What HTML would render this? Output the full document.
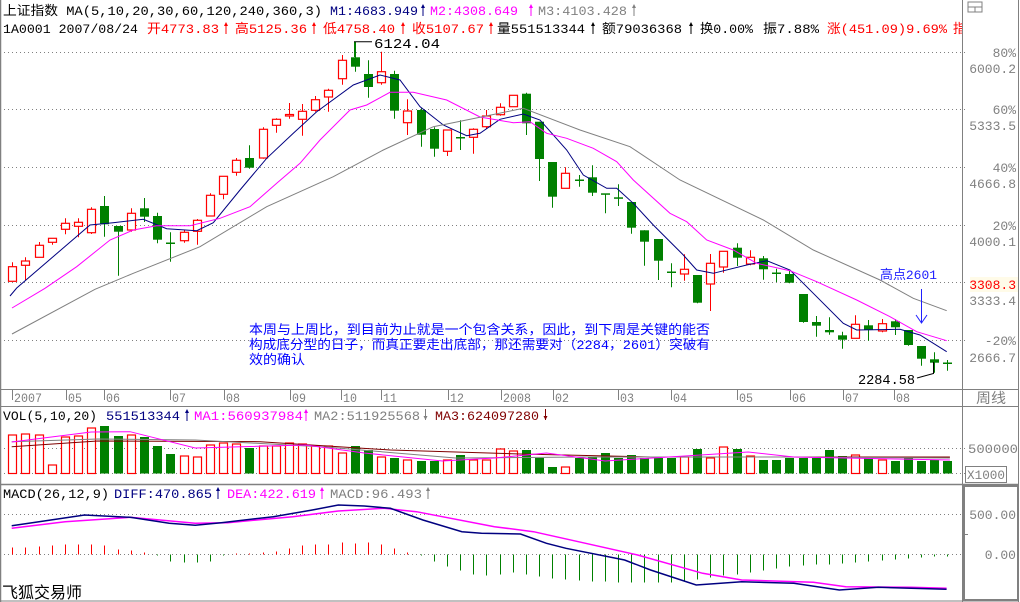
<!DOCTYPE html>
<html><head><meta charset="utf-8"><style>
html,body{margin:0;padding:0;background:#fff;}
svg{display:block;font-family:"Liberation Mono","WenQuanYi Zen Hei","Noto Sans CJK SC",monospace;}
</style></head><body>
<svg id="s" width="1020" height="602" viewBox="0 0 1020 602" xmlns="http://www.w3.org/2000/svg">
<rect width="1020" height="602" fill="#fff"/>
<g id="g"></g>
</svg>
<script>
const g=document.getElementById('g');let h='';
const R='#ff0000',G='#008000',N='#000080',M='#ff00ff',GR='#808080',DR='#800000';
function T(x,y,t,c,w,fs,anchor){h+=`<text x="${x}" y="${y}" fill="${c}" font-size="${fs||13}"${w?` textLength="${w}" lengthAdjust="spacingAndGlyphs"`:''}${anchor?` text-anchor="${anchor}"`:''}>${t}</text>`;}
function L(x1,y1,x2,y2,c,dash,sw){h+=`<line x1="${x1}" y1="${y1}" x2="${x2}" y2="${y2}" stroke="${c}" stroke-width="${sw||1}"${dash?' stroke-dasharray="1 3"':''}/>`;}
function P(pts,c,sw){h+=`<polyline points="${pts.map(p=>p.join(',')).join(' ')}" fill="none" stroke="${c}" stroke-width="${sw||1}"/>`;}
function ARW(x,y,c){L(x,y-10,x,y+1,c);h+=`<polygon points="${x-2},${y-7} ${x},${y-11} ${x+2},${y-7}" fill="${c}"/>`;}
function ARD(x,y,c){L(x,y-11,x,y,c);h+=`<polygon points="${x-2},${y-4} ${x},${y} ${x+2},${y-4}" fill="${c}"/>`;}
L(0.5,0,0.5,602,GR,0,1.5);
L(962.5,0,962.5,602,GR);L(1018.5,0,1018.5,602,GR);
L(0,389.5,1019,389.5,GR);L(0,406.5,1019,406.5,GR);L(0,484.5,1019,484.5,GR,0,1.5);L(0,601,1019,601,GR);
h+=`<rect x="964" y="486" width="54" height="114" fill="none" stroke="${GR}" stroke-width="2"/>`;
h+=`<rect x="968" y="2" width="14" height="10" fill="none" stroke="${GR}"/>`;L(968,7,982,7,GR);L(975,7,975,12,GR);
T(3,15,'上证指数 MA(5,10,20,30,60,120,240,360,3)','#000',319);
T(330,15,'M1:4683.949',N,88);ARW(423,15,N);
T(430,15,'M2:4308.649',M,88);ARW(531,15,M);
T(538,15,'M3:4103.428',GR,89);ARW(634,15,GR);
T(3,33,'1A0001 2007/08/24','#000',135);
T(147,33,'开4773.83',R,72);ARW(226,33,R);
T(235,33,'高5125.36',R,72);ARW(314,33,R);
T(323,33,'低4758.40',R,72);ARW(403,33,R);
T(412,33,'收5107.67',R,72);ARW(491,33,R);
T(497,33,'量551513344','#000',88);ARW(593,33,'#000');
T(602,33,'额79036368','#000',80);ARW(691,33,'#000');
T(700,33,'换0.00%','#000',53);T(763,33,'振7.88%','#000',56);
T(827,33,'涨(451.09)9.69%',R,120);
h+=`<svg x="950" y="18" width="12" height="20"><text x="3" y="15" fill="${R}" font-size="13">指</text></svg>`;
[[52,'80%','6000.2'],[109,'60%','5333.5'],[167,'40%','4666.8'],[225,'20%','4000.1']].forEach(a=>{L(0,a[0]+.5,968,a[0]+.5,GR,1);T(1016,a[0]+5,a[1],GR,0,13,'end');T(1016,a[0]+21,a[2],GR,0,13,'end');});
L(0,282.5,968,282.5,GR,1);
h+=`<rect x="970" y="277" width="48" height="15" fill="#fffbe8"/>`;
T(1016,289,'3308.3',R,0,13,'end');T(1016,305,'3333.4',GR,0,13,'end');
L(0,340.5,968,340.5,GR,1);T(1016,345,'-20%',GR,0,13,'end');T(1016,362,'2666.7',GR,0,13,'end');
const C=[['r',266.7,281.3,262.3,281.3],['r',261,265.3,257.3,280],['r',245.3,257.3,242,257.3],['r',238.3,242.3,238.3,244.7],['r',223.3,229.3,218.3,234.3],['r',222.3,226.3,218.3,237.3],['r',209.3,232.7,207.3,234],['g',206,224.3,196,236.7],['g',226,231.7,226,275.7],['r',213.3,230,208.3,231.7],['g',208.3,216.7,198,222],['g',216,239.7,212.7,243.3],['g',242.5,243.5,232.3,261.7],['r',232.3,240.7,230,242.7],['r',220.3,231.3,219,244.7],['r',195.3,216,193.3,216],['r',176.3,194.3,176.3,199.3],['r',160.3,172.3,158,175.7],['g',158,167.7,145.3,168.7],['r',129.3,158,127.3,158.7],['r',119.3,125.3,118.3,132.7],['r',114.5,115.7,103,118.7],['r',111.3,119.3,104,135.7],['r',99.7,110.3,96,111.7],['r',90.3,97,88.7,111.7],['r',60.3,78.7,55,84.7],['g',57.3,66.7,41.7,71.7],['g',74,87,60.3,97.7],['r',71.7,82.7,51.7,84.7],['g',74,110.7,70.7,118.7],['r',111,122.7,99.3,135],['g',110,134.7,108.3,146.7],['g',129,148.7,127.3,156.7],['r',130,151.3,130,156],['g',137,138,120.3,150],['r',129.3,137.3,128.3,153.7],
['r',116,126.7,110,129],['r',107.3,114.7,103.3,115.7],['r',95.3,106.7,95.3,106.7],['g',93.7,123.3,92.7,135],['g',121.7,159,121.7,181],['g',162,196.7,162,207.7],['r',173.3,188.3,167.3,188.3],['g',179.5,180.7,175,186.7],['g',177.3,192.7,165.3,196],['g',193.3,194.3,193.7,213.3],['g',197.3,198.3,184.3,206],['g',202,227.7,202,233.7],['g',230.3,241.7,230.3,265.7],['g',239,260.7,239,280],['g',271.5,272.7,263.3,287.3],['r',269.3,274,254.3,280.7],['g',275,302.7,275,303.3],['r',263.3,284,254,311],['r',251.3,267,251.3,272.7],['g',247.7,257.7,243.3,266],['r',257.3,264,250.3,265.3],['g',258.3,269.3,256,279.7],['g',272.5,273.5,268.7,282],['g',274,282.7,270.7,283.3],['g',294,322,294,322.7],['g',322,325.7,316,336.7],['g',330,332.3,317.3,334.7],['g',335.3,339.7,331.7,348.7],['r',324.3,338.3,315.3,338.3],['g',325.3,330,320,340.7],['r',323.7,331,319,332.3],['g',321.3,327.3,319.3,335],['g',330,345,330,345.7],['g',346,358.7,346,365.7],['g',359.3,362.7,352.3,372.7],['g',362.5,363.5,360,370.7]];
const X=i=>Math.round(12.3+13.17*i);
C.forEach((c,i)=>{const x=X(i),col=c[0]=='r'?R:G;
 L(x+.5,c[3],x+.5,c[4],col);
 const bh=Math.max(c[2]-c[1],1.5);
 if(c[0]=='r'){h+=`<rect x="${x-3.5}" y="${c[1]}" width="8" height="${bh}" fill="#fff" stroke="${col}" stroke-width="1.2"/>`;}
 else h+=`<rect x="${x-4}" y="${c[1]}" width="9" height="${bh}" fill="${col}"/>`;
});
P([[10,296],[16.7,288],[90,225],[113,222.7],[143.3,219.3],[166.7,228.7],[196.7,230.7],[213.3,222.7],[240,190],[266.7,158.3],[293.3,133.3],[316.7,111.7],[353.3,85],[380,75],[400,80],[420,106.7],[443.3,125],[466.7,135.7],[480,133.3],[500,119.3],[523.3,114],[540,120],[566.7,150],[583.3,175],[606.7,188.3],[616.7,188.3],[633.3,203.3],[653.3,225],[683.3,255],[696.7,270],[713.3,273.3],[746.7,265],[766.7,260.7],[790,270],[813.3,293.3],[843.3,323.3],[856.7,330],[900,329.3],[920,335],[946.7,351.7]],N);
P([[12,308],[45,288.3],[76.7,266.7],[110,240],[133.3,230],[156.7,225.7],[190,225.7],[220,218.3],[250,206.7],[276.7,183.3],[300,163.3],[320,140],[350,110],[366.7,105],[390,92.3],[413.3,92.3],[446.7,100],[480,117],[513.3,122.7],[530,121.7],[546.7,133.3],[566.7,138.3],[593.3,148.3],[616.7,161.7],[633.3,180],[670,213.3],[686.7,221.7],[706.7,240],[733.3,250],[756.7,263.3],[790,270.7],[816.7,281.7],[856.7,300],[890,316.7],[916.7,331.7],[946.7,340.7]],M);
P([[12,334],[95,289.3],[133.3,273.3],[200,246.7],[266.7,206.7],[333.3,176.7],[383.3,150],[433.3,126.7],[480,117.3],[523.3,108.3],[580,130],[630,146.7],[680,180],[763.3,220],[813.3,250],[880,280],[913.3,298.3],[946.7,310.7]],GR);
L(354.5,41.7,354.5,57,G);L(354,41.7,372,41.7,'#000');T(374,48,'6124.04','#000',66,14);
T(858,384,'2284.58','#000',57,14);P([[917,378],[933.5,373.5],[933.5,362]],'#000');
T(880,279,'高点2601','#2020ff',57,13);
L(921.5,289,921.5,323,'#2020ff');P([[916,315],[921.5,323],[927,315]],'#2020ff');
T(249,334,'本周与上周比，到目前为止就是一个包含关系，因此，到下周是关键的能否','#0000ff',461,13);
T(249,349,'构成底分型的日子，而真正要走出底部，那还需要对（2284，2601）突破有','#0000ff',461,13);
T(249,364,'效的确认','#0000ff',56,13);
[[12,'2007'],[66,'05'],[104,'06'],[170,'07'],[224,'08'],[290,'09'],[341,'10'],[381,'11'],[448,'12'],[501,'2008'],[553,'02'],[618,'03'],[671,'04'],[737,'05'],[790,'06'],[843,'07'],[894,'08']].forEach(a=>{L(a[0]+.5,389,a[0]+.5,400,GR);T(a[0]+2,402,a[1],GR,a[1].length*7,13);});
T(976,403,'周线',GR,30,14);
T(3,420,'VOL(5,10,20)','#000',94);T(106,420,'551513344',N,74);ARW(187,420,N);
T(194,420,'MA1:560937984',M,109);ARW(306,420,M);
T(314,420,'MA2:511925568',GR,106);ARD(425.5,420,GR);
T(435,420,'MA3:624097280',DR,104);ARD(545.5,420,DR);
L(0,448.5,968,448.5,GR,1);L(0,473.5,968,473.5,GR,1);
T(1018,453,'500000',GR,50,13,'end');
h+=`<rect x="965.5" y="466.5" width="41" height="16" fill="#fff" stroke="${GR}"/>`;T(967,479,'X1000',GR,38,13);
const V=[435,434,435,465,437,436,428,426,436,435,437,446,454,456,457,445,443,444,448,446,446,443,444,446,446,453,446,450,457,458,460,461,461,460,455,460,460,449,451,450,458,467,467,458,457,453,458,455,458,458,458,457,449,458,447,449,456,460,460,458,458,458,450,456,455,458,460,461,458,461,460,461];
C.forEach((c,i)=>{const x=X(i),t=V[i]||460;
 if(c[0]=='r')h+=`<rect x="${x-3.5}" y="${t}" width="8" height="${473.5-t}" fill="#fff" stroke="${R}" stroke-width="1.2"/>`;
 else h+=`<rect x="${x-4}" y="${t}" width="9" height="${473.5-t}" fill="${G}"/>`;});
const sx=a=>a.map(p=>[+(p[0]/1.537).toFixed(1),p[1]]);
P(sx([[18,446.7],[150,441],[400,441.7],[600,450],[800,454],[1000,457],[1200,457],[1460,457]]),DR,1);
P(sx([[18,441.7],[150,439],[300,440],[500,447],[700,458],[900,457],[1200,457],[1460,458]]),GR,1);
P(sx([[18,442],[140,432],[200,431.7],[300,448],[470,445],[560,453],[680,461],[760,458],[840,453],[930,461],[1150,452],[1220,457],[1460,460]]),M,1);
T(3,498,'MACD(26,12,9)','#000',106);T(114,498,'DIFF:470.865',N,98);ARW(218,498,N);
T(227,498,'DEA:422.619',M,89);ARW(322,498,M);T(330,498,'MACD:96.493',GR,92);ARW(428,498,GR);
L(0,514.5,968,514.5,GR,1);L(0,554.5,968,554.5,GR,1);L(963,534.5,968,534.5,GR);
T(1016,519,'500.00',GR,0,13,'end');T(1016,559,'0.00',GR,0,13,'end');
const Hs=[7,7,8,9,10,10,10,9,5,4,2,-1,-7,-8,-8,-7,-1,1,1,2,3,6,9,10,10,12,11,12,10,6,2,-1,-7,-12,-16,-20,-21,-20,-18,-20,-22,-24,-25,-26,-27,-27,-28,-28,-28,-28,-28,-27,-25,-23,-21,-20,-18,-16,-14,-12,-11,-10,-10,-9,-8,-7,-6,-5,-4,-3,-2,-2];
Hs.forEach((v,i)=>{const x=X(i)+.5;L(x,554.5,x,554.5-v,v>0?R:G);});
P(sx([[18,528.3],[100,521.7],[200,517.3],[300,523.3],[350,522.7],[450,516.7],[520,511],[590,508.3],[640,511.7],[760,526.7],[820,531.7],[900,543.3],[980,555],[1080,573.3],[1140,580],[1250,582.3],[1300,586.7],[1400,587.3],[1455,588.3]]),M,1.5);
P(sx([[18,525.7],[60,521.7],[130,515],[200,517.3],[260,523.3],[300,525.3],[340,522.7],[420,516.7],[480,510],[520,505],[560,506],[600,508.3],[650,520],[710,531.7],[740,533.3],[800,534],[840,543.3],[870,548.3],[960,560],[1000,570],[1070,585],[1140,581.7],[1220,583.3],[1290,590],[1350,587.3],[1455,589.3]]),N,1.5);
T(2,598,'飞狐交易师','#000',80,16);
g.innerHTML=h;
</script>
</body></html>
